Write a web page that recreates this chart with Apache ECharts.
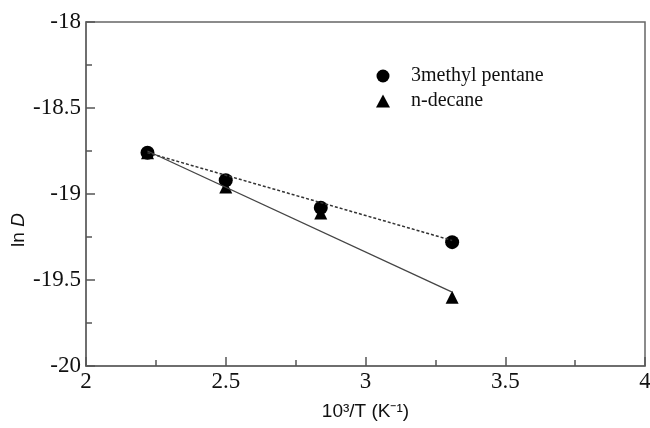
<!DOCTYPE html>
<html>
<head>
<meta charset="utf-8">
<script src="https://cdn.jsdelivr.net/npm/echarts@6/dist/echarts.min.js"></script>
<style>
  html, body { margin: 0; padding: 0; background: #fff; }
  #chart { width: 650px; height: 428px; }
</style>
</head>
<body>
<div id="chart"></div>
<script>
// 1000/T values and ln D
const invT = [2.22, 2.5, 2.84, 3.31];
const pentane = [-18.76, -18.92, -19.08, -19.28];
const decane = [-18.76, -18.96, -19.11, -19.6];
// fitted lines (end points)
const fitX = [2.22, 3.31];
const pentaneFit = [-18.76, -19.27];
const decaneFit = [-18.75, -19.57];

const pairs = (xs, ys) => xs.map((x, i) => [x, ys[i]]);

const serif = 'Liberation Serif';
const sans = 'Liberation Sans';
const axisGray = '#555';
const textColor = '#111';

const chart = echarts.init(document.getElementById('chart'));

const tick = { show: true, inside: true, length: 9, lineStyle: { color: axisGray, width: 1.5 } };
const minor = { show: true, splitNumber: 2, length: 6, lineStyle: { color: axisGray, width: 1.5 } };

const option = {
  animation: false,
  grid: {
    left: 86, right: 5, top: 22, bottom: 62,
    outerBoundsMode: 'none', containLabel: false,
    show: true, borderColor: '#666', borderWidth: 1.5
  },
  legend: {
    orient: 'vertical',
    left: 371, top: 61,
    itemGap: 5,
    itemWidth: 14, itemHeight: 13,
    data: [
      { name: '3methyl pentane', icon: 'circle' },
      { name: 'n-decane', icon: 'triangle' }
    ],
    textStyle: { fontFamily: serif, fontSize: 20, color: textColor, padding: [0, 0, 0, 16] }
  },
  xAxis: {
    type: 'value', min: 2, max: 4, interval: 0.5,
    name: '10\u00b3/T (K\u207b\u00b9)',
    nameLocation: 'middle', nameGap: 36,
    nameTextStyle: { fontFamily: sans, fontSize: 19, color: textColor },
    axisLine: { lineStyle: { color: '#666', width: 1.5 } },
    axisTick: tick,
    minorTick: minor,
    splitLine: { show: false },
    axisLabel: { fontFamily: serif, fontSize: 23, color: textColor, margin: 4 }
  },
  yAxis: {
    type: 'value', min: -20, max: -18, interval: 0.5,
    name: 'ln {i|D}',
    nameLocation: 'middle', nameGap: 58, nameRotate: 90,
    nameMoveOverlap: false,
    nameTextStyle: {
      fontFamily: sans, fontSize: 19, color: textColor,
      padding: [0, 72, 0, 0],
      rich: { i: { fontFamily: sans, fontSize: 19, fontStyle: 'italic', color: textColor } }
    },
    axisLine: { lineStyle: { color: '#666', width: 1.5 } },
    axisTick: tick,
    minorTick: minor,
    splitLine: { show: false },
    axisLabel: { fontFamily: serif, fontSize: 23, color: textColor, margin: 5 }
  },
  series: [
    {
      name: 'pentane fit', type: 'line', symbol: 'none', silent: true,
      data: pairs(fitX, pentaneFit),
      lineStyle: { color: '#333', width: 1.5, type: [3, 2] }
    },
    {
      name: 'decane fit', type: 'line', symbol: 'none', silent: true,
      data: pairs(fitX, decaneFit),
      lineStyle: { color: '#444', width: 1.3 }
    },
    {
      name: 'n-decane', type: 'scatter', symbol: 'triangle', symbolSize: 13,
      itemStyle: { color: '#000', opacity: 1 },
      data: pairs(invT, decane)
    },
    {
      name: '3methyl pentane', type: 'scatter', symbol: 'circle', symbolSize: 14,
      itemStyle: { color: '#000', opacity: 1 },
      data: pairs(invT, pentane)
    }
  ]
};

chart.setOption(option);
</script>
</body>
</html>
